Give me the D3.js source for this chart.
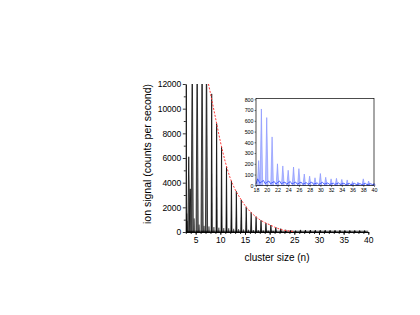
<!DOCTYPE html>
<html>
<head>
<meta charset="utf-8">
<script src="https://cdn.jsdelivr.net/npm/d3@7"></script>
<style>
  body { margin: 0; background: #fff; }
  svg { display: block; font-family: "Liberation Sans", Arial, sans-serif; }
</style>
</head>
<body>
<script>
// main spectrum peaks (cluster size axis)
var peakPos = [3.6, 3.9, 4.3, 5.3, 6.3, 7.2, 8.25, 9.25, 10.25, 11.25, 12.25, 13.25, 14.25, 15.25,
  16.25, 17.25, 18.25, 19.25, 20.25, 21.25, 22.25, 23.25, 24.25, 25.25, 26.25, 27.25, 28.25, 29.25,
  30.25, 31.25, 32.25, 33.25, 34.25, 35.25, 36.25, 37.25, 38.25, 39.25];
var peakHeight = [6100, 3500, 15000, 15000, 15000, 15000, 11200, 8800, 6900, 5300, 4150, 3300, 2600, 2050,
  1600, 1250, 950, 720, 560, 400, 270, 180, 130, 110, 170, 160, 160, 150,
  150, 150, 140, 140, 140, 130, 130, 130, 120, 120];
// small side peaks near the baseline
var sidePos = [3.2, 3.4, 4.7, 5.7, 6.7, 7.7, 8.7, 9.7, 10.7, 11.7, 12.7, 13.7, 14.7, 15.7, 16.7, 17.7, 18.7, 19.7, 20.7];
var sideHeight = [1500, 900, 1100, 600, 500, 450, 400, 350, 320, 300, 260, 230, 200, 180, 160, 150, 130, 120, 100];
// dashed red envelope
var envN = [7.6, 9, 10, 11, 12, 13, 14, 15, 16, 17, 18, 19, 20, 21, 22, 23, 24, 25];
var envY = [12000, 9300, 7350, 5700, 4380, 3450, 2760, 2150, 1680, 1300, 1000, 770, 590, 400, 240, 140, 80, 40];
var xTicks = [5, 10, 15, 20, 25, 30, 35, 40];
var yTicks = [0, 2000, 4000, 6000, 8000, 10000, 12000];

// inset spectrum
var insetPos = [18.5, 19, 20, 21, 22, 23, 24, 25, 26, 27, 28, 29, 30, 31, 32, 33, 34, 35, 36, 37, 38, 39, 40];
var insetHeight = [230, 710, 630, 450, 200, 180, 140, 170, 155, 105, 85, 70, 110, 75, 60, 65, 55, 50, 35, 30, 60, 40, 20];
var noisePos = [18, 18.3, 18.7, 19.4, 19.7, 20.4, 20.7, 21.4, 21.7, 22.4, 22.7, 23.4, 23.7, 24.4, 24.7, 25.4, 25.7,
  26.4, 26.7, 27.4, 27.7, 28.4, 28.7, 29.4, 29.7, 30.4, 30.7, 31.4, 31.7, 32.4, 32.7, 33.4, 33.7, 34.4, 34.7,
  35.4, 35.7, 36.4, 36.7, 37.4, 37.7, 38.4, 38.7, 39.4, 39.7, 40];
var noiseVal = [10, 60, 20, 45, 15, 40, 15, 35, 12, 40, 15, 30, 10, 35, 12, 30, 10,
  30, 10, 25, 8, 30, 10, 22, 8, 28, 10, 22, 8, 20, 8, 22, 8, 20, 6,
  18, 6, 18, 6, 16, 6, 18, 6, 15, 6, 8];
var insetXTicks = [18, 20, 22, 24, 26, 28, 30, 32, 34, 36, 38, 40];
var insetYTicks = [0, 100, 200, 300, 400, 500, 600, 700, 800];

var width = 420, height = 315;
var svg = d3.select('body').append('svg').attr('width', width).attr('height', height);

var x = d3.scaleLinear().domain([3, 40]).range([185.8, 368.3]);
var y = d3.scaleLinear().domain([0, 12000]).range([232, 84]);

svg.append('clipPath').attr('id', 'mainclip')
  .append('rect').attr('x', 185.8).attr('y', 84).attr('width', 183).attr('height', 149);

var plot = svg.append('g').attr('clip-path', 'url(#mainclip)');

var spike = function(xs, ys, pos, h, w){
  return 'M' + xs(pos - w) + ',' + ys(0) + 'L' + xs(pos) + ',' + ys(h) + 'L' + xs(pos + w) + ',' + ys(0) + 'Z';
};

// side peaks first, main peaks on top
plot.selectAll('.side').data(sidePos).enter().append('path')
  .attr('d', function(d, i){ return spike(x, y, d, sideHeight[i], 0.08); })
  .attr('fill', '#444').attr('stroke', '#222').attr('stroke-width', 0.5);

plot.selectAll('.peak').data(peakPos).enter().append('path')
  .attr('d', function(d, i){ return spike(x, y, d, peakHeight[i], d < 8 ? 0.22 : 0.12); })
  .attr('fill', function(d){ return d < 8 ? '#777' : '#222'; })
  .attr('stroke', '#000').attr('stroke-width', 0.7);

// baseline trace
plot.append('line').attr('x1', x(3)).attr('x2', x(40)).attr('y1', y(60)).attr('y2', y(60))
  .attr('stroke', '#000').attr('stroke-width', 0.8);

// envelope
svg.append('path')
  .datum(envN)
  .attr('d', d3.line().x(function(d){ return x(d); }).y(function(d, i){ return y(envY[i]); }).curve(d3.curveMonotoneX))
  .attr('fill', 'none').attr('stroke', '#ff3b3b').attr('stroke-width', 1).attr('stroke-dasharray', '2,1.5');

// axes
var fmt = d3.format('d');
var xAxis = svg.append('g').attr('transform', 'translate(0,232)')
  .call(d3.axisBottom(x).tickValues(xTicks).tickFormat(fmt).tickSize(3).tickSizeOuter(0));
svg.append('g').attr('transform', 'translate(0,232)')
  .call(d3.axisBottom(x).tickValues(d3.range(3, 41)).tickSize(2).tickFormat('').tickSizeOuter(0));
var yAxis = svg.append('g').attr('transform', 'translate(185.8,0)')
  .call(d3.axisLeft(y).tickValues(yTicks).tickFormat(fmt).tickSize(3).tickSizeOuter(0));
svg.append('g').attr('transform', 'translate(185.8,0)')
  .call(d3.axisLeft(y).tickValues([1000, 3000, 5000, 7000, 9000, 11000]).tickSize(2).tickFormat('').tickSizeOuter(0));

svg.selectAll('.domain, .tick line').attr('stroke', '#000').attr('stroke-width', 0.8);
xAxis.selectAll('text').attr('font-size', 8.5).attr('fill', '#000').attr('dy', '0.55em');
yAxis.selectAll('text').attr('font-size', 8.5).attr('fill', '#000').attr('x', -4.5);

svg.append('text').attr('x', 277).attr('y', 261).attr('text-anchor', 'middle')
  .attr('font-size', 10).text('cluster size (n)');
svg.append('text').attr('transform', 'translate(151,154) rotate(-90)').attr('text-anchor', 'middle')
  .attr('font-size', 10.5).text('ion signal (counts per second)');

// inset
var ix = d3.scaleLinear().domain([18, 40]).range([256, 374]);
var iy = d3.scaleLinear().domain([0, 800]).range([185.3, 99.3]);

svg.append('rect').attr('x', 256).attr('y', 98.5).attr('width', 118).attr('height', 87)
  .attr('fill', '#fff');

svg.selectAll('.ipeak').data(insetPos).enter().append('path')
  .attr('d', function(d, i){ return spike(ix, iy, d, insetHeight[i], 0.25); })
  .attr('fill', '#b8c2ff').attr('stroke', '#7d8cff').attr('stroke-width', 0.6);

svg.append('path').datum(noisePos)
  .attr('d', d3.line().x(function(d){ return ix(d); }).y(function(d, i){ return iy(noiseVal[i]); }))
  .attr('fill', 'none').attr('stroke', '#2d48ff').attr('stroke-width', 0.8);

svg.append('rect').attr('x', 256).attr('y', 98.5).attr('width', 118).attr('height', 87)
  .attr('fill', 'none').attr('stroke', '#000').attr('stroke-width', 0.7);

var ixAxis = svg.append('g').attr('transform', 'translate(0,185.5)')
  .call(d3.axisBottom(ix).tickValues(insetXTicks).tickSize(1.5).tickSizeOuter(0));
var iyAxis = svg.append('g').attr('transform', 'translate(256,0)')
  .call(d3.axisLeft(iy).tickValues(insetYTicks).tickSize(1.5).tickSizeOuter(0));
ixAxis.selectAll('.domain').remove();
iyAxis.selectAll('.domain').remove();
ixAxis.selectAll('.tick line').attr('stroke', '#000').attr('stroke-width', 0.5);
iyAxis.selectAll('.tick line').attr('stroke', '#000').attr('stroke-width', 0.5);
ixAxis.selectAll('text').attr('font-size', 5.3).attr('fill', '#000').attr('y', 2.5);
iyAxis.selectAll('text').attr('font-size', 5.3).attr('fill', '#000').attr('x', -2.5);
</script>
</body>
</html>
